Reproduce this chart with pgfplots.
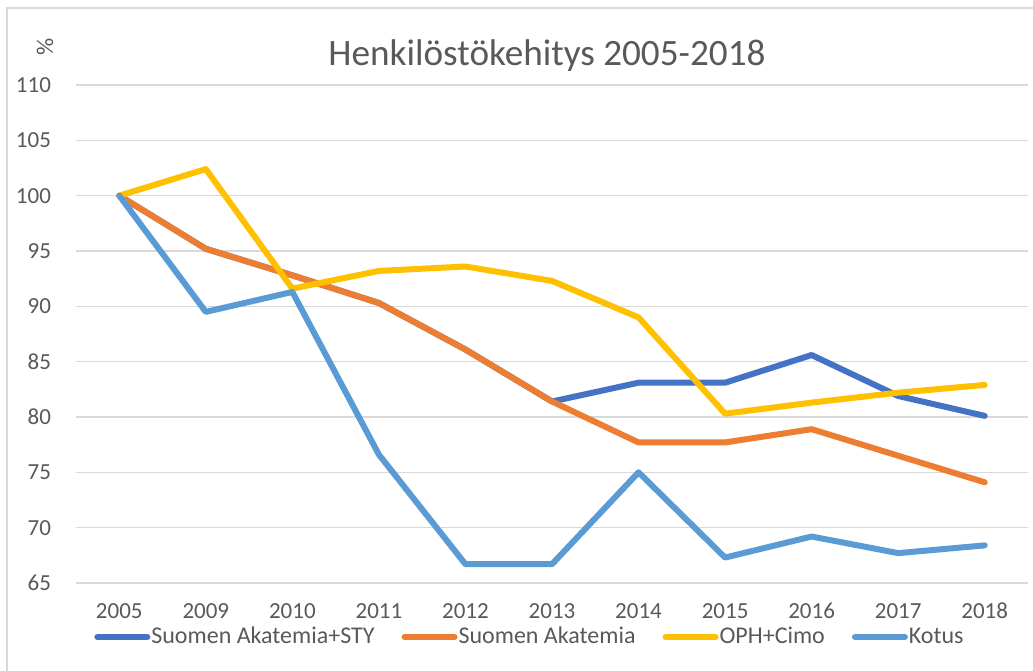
\documentclass[border=0pt]{standalone}
\usepackage{pgfplots}
\pgfplotsset{compat=1.18}
\usepackage{fontspec}
\setmainfont{Carlito}
\definecolor{cA}{HTML}{4472C4}
\definecolor{cB}{HTML}{ED7D31}
\definecolor{cC}{HTML}{FFC000}
\definecolor{cD}{HTML}{5B9BD5}
\definecolor{txt}{HTML}{595959}
\definecolor{grd}{HTML}{D9D9D9}
\begin{document}
\begin{tikzpicture}
\useasboundingbox (-38pt,-43.5pt) rectangle (478.5pt,291.5pt);
\draw[grd, line width=0.75pt] (-34.5pt,-60pt) -- (-34.5pt,287.5pt) -- (500pt,287.5pt);
\begin{axis}[
  at={(0pt,0pt)}, anchor=south west,
  scale only axis, width=476pt, height=249pt,
  xmin=-0.5, xmax=10.5, ymin=65, ymax=110,
  axis line style={draw=none},
  ymajorgrids, grid style={grd, line width=0.75pt},
  ytick={65,70,...,110},
  xtick={0,...,10},
  xticklabels={2005,2009,2010,2011,2012,2013,2014,2015,2016,2017,2018},
  tick style={draw=none},
  ticklabel style={font=\fontsize{11.5}{13}\selectfont, text=txt},
  /pgf/number format/assume math mode=true,
  yticklabel style={anchor=east, xshift=-9pt},
  xticklabel style={anchor=center, yshift=-14pt},
  legend style={at={(227.5pt,-27pt)}, anchor=center, draw=none, fill=none,
    legend columns=4, font=\fontsize{12}{14}\selectfont, text=txt,
    /tikz/every even column/.append style={column sep=11.5pt},
    /tikz/every odd column/.append style={column sep=-1.5pt}},
  legend cell align=left,
  legend image code/.code={\draw[#1, line width=3pt, line cap=round] (0pt,0pt) -- (25pt,0pt);},
  every axis plot/.append style={line width=3pt, line join=round, line cap=round, mark=none},
  clip=false,
]
\addplot[cA] coordinates {(0,100) (1,95.2) (2,92.8) (3,90.3) (4,86.1) (5,81.4) (6,83.1) (7,83.1) (8,85.6) (9,81.9) (10,80.1)};
\addlegendentry{Suomen Akatemia+STY}
\addplot[cB] coordinates {(0,100) (1,95.2) (2,92.8) (3,90.3) (4,86.1) (5,81.4) (6,77.7) (7,77.7) (8,78.9) (9,76.5) (10,74.1)};
\addlegendentry{Suomen Akatemia}
\addplot[cC] coordinates {(0,100) (1,102.4) (2,91.6) (3,93.2) (4,93.6) (5,92.3) (6,89.0) (7,80.3) (8,81.3) (9,82.2) (10,82.9)};
\addlegendentry{OPH+Cimo}
\addplot[cD] coordinates {(0,100) (1,89.5) (2,91.3) (3,76.6) (4,66.7) (5,66.7) (6,75.0) (7,67.3) (8,69.2) (9,67.7) (10,68.4)};
\addlegendentry{Kotus}
\end{axis}
\node[text=txt, font=\fontsize{18.6}{22}\selectfont] at (235.5pt,263.5pt) {Henkilöstökehitys 2005-2018};
\node[text=txt, font=\fontsize{12}{14}\selectfont, rotate=90] at (-15.5pt,268pt) {\%};
\end{tikzpicture}
\end{document}
